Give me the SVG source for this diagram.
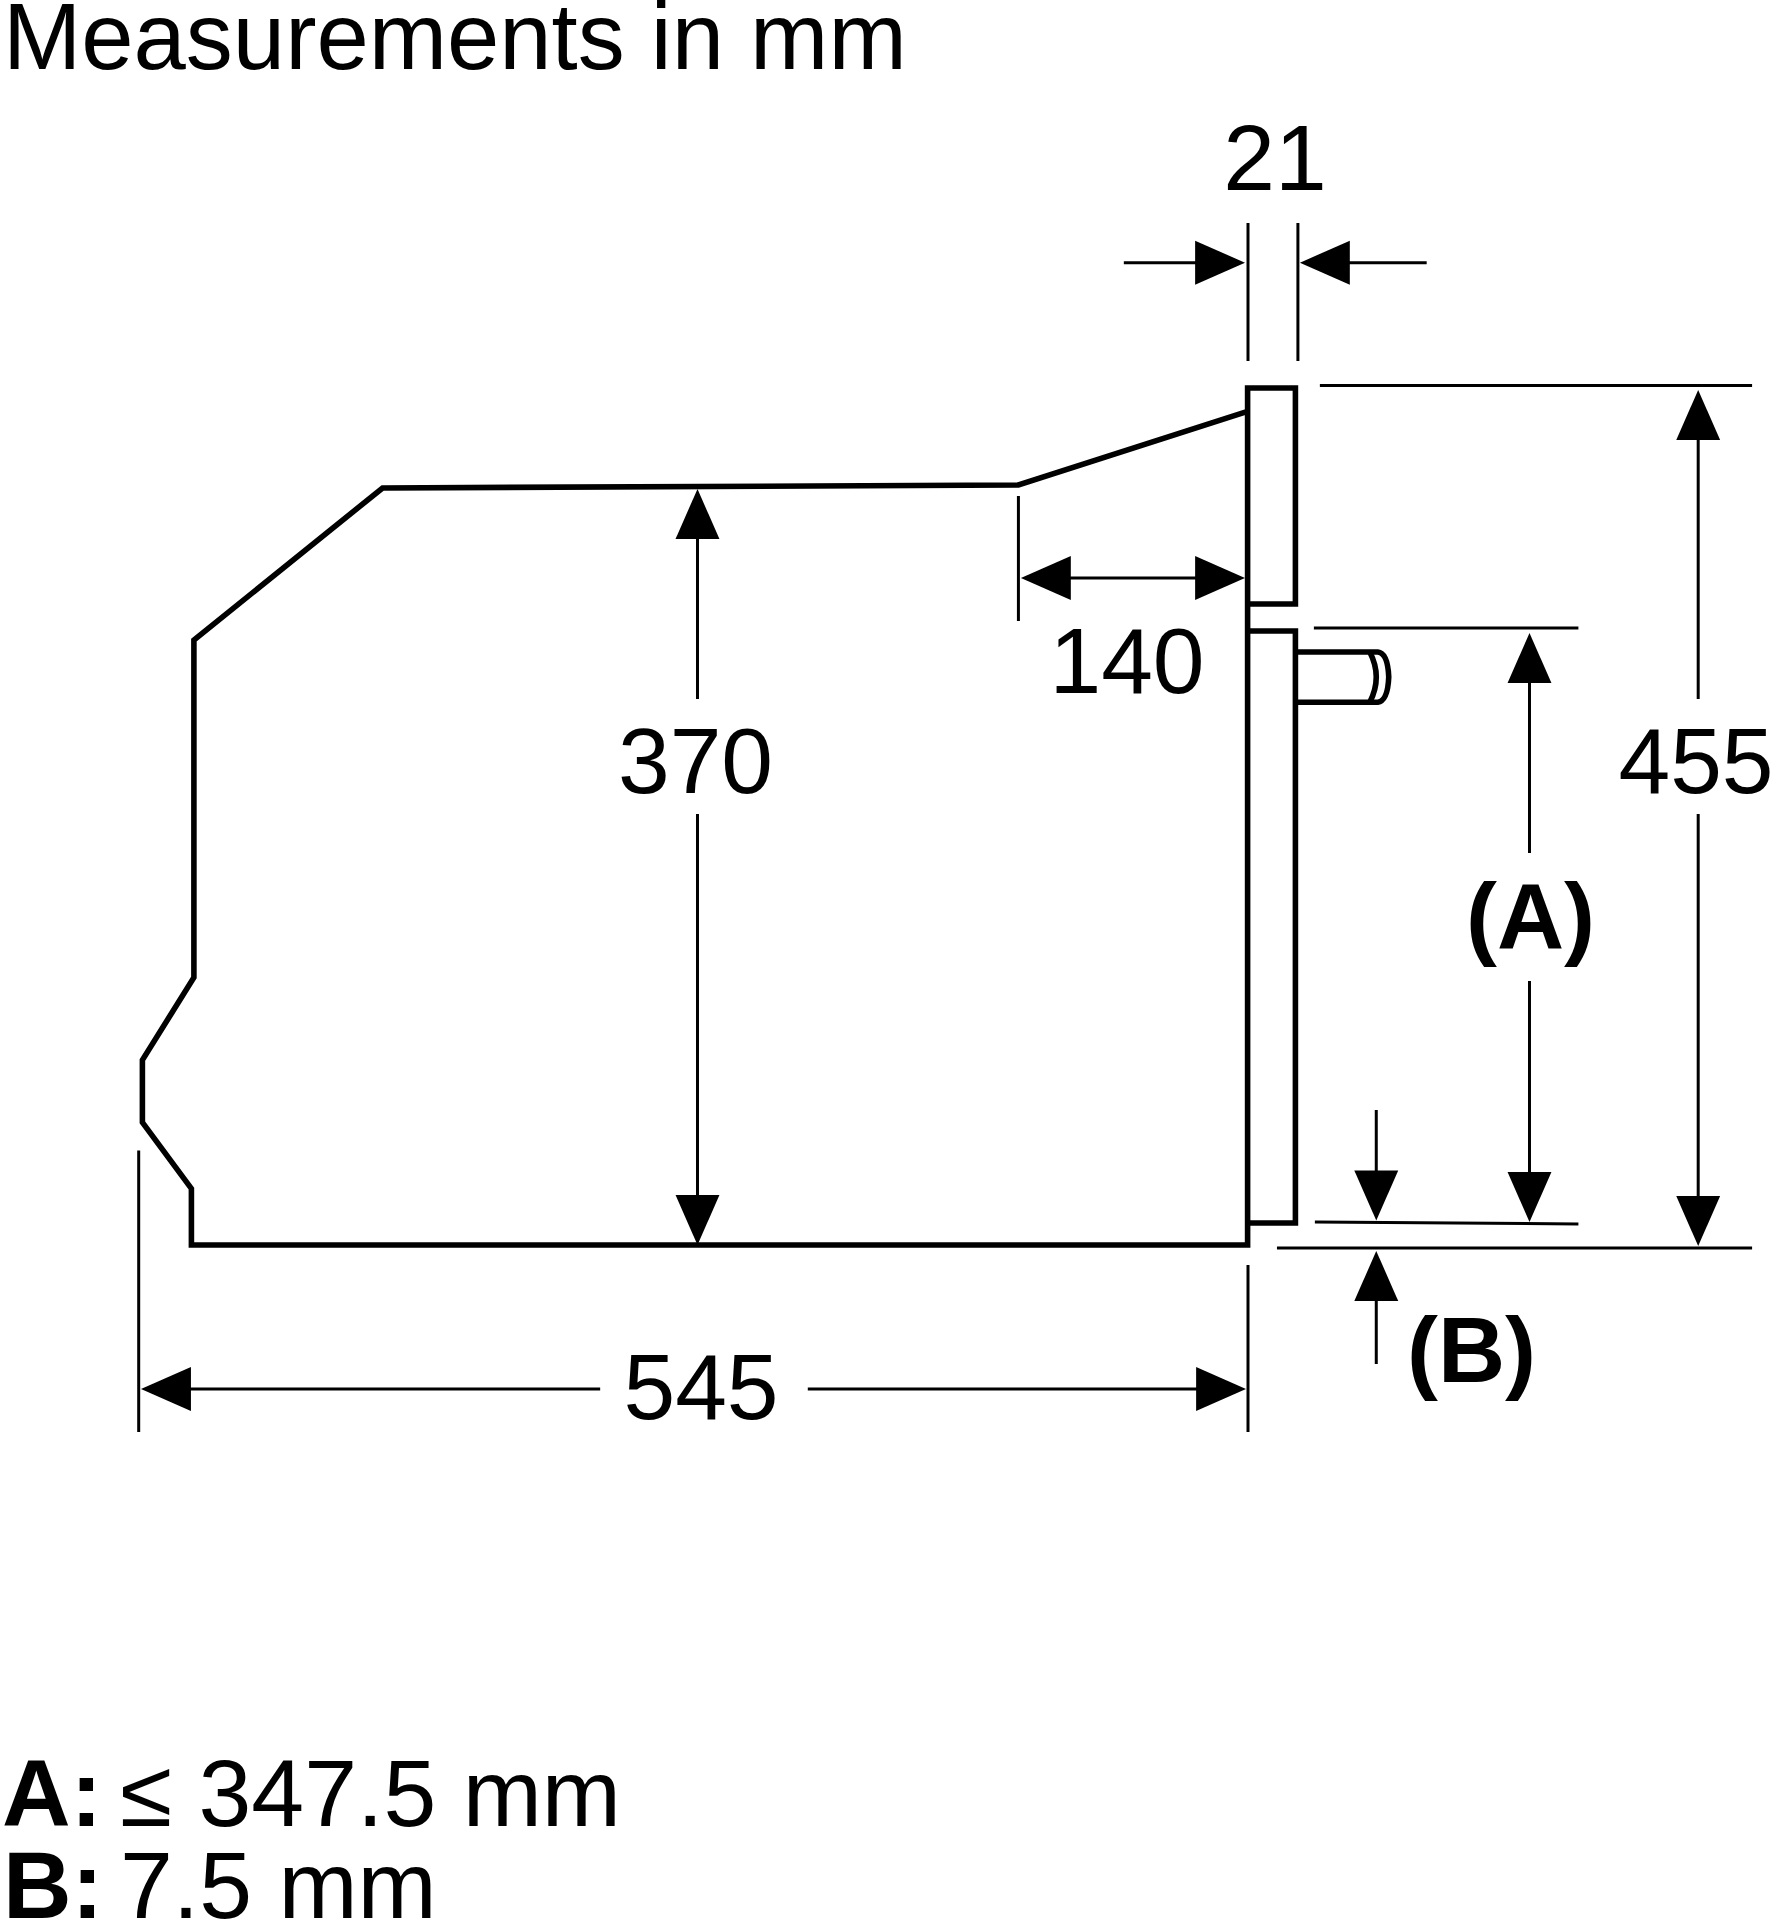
<svg xmlns="http://www.w3.org/2000/svg" xmlns:xlink="http://www.w3.org/1999/xlink" width="1776" height="1921" viewBox="0 0 1776 1921">
<style>
.t{font-family:"Liberation Sans",Arial,sans-serif;font-size:93px;fill:#000}
.l{font-size:95px}
.b{font-weight:bold}
.m{text-anchor:middle}
.o{fill:none;stroke:#000;stroke-width:5.6;stroke-linejoin:miter}
.d{fill:none;stroke:#000;stroke-width:3}
.h{fill:#000}
</style>
<defs><path id="ah" class="h" d="M0 0L-50 -22L-50 22Z"/></defs>
<rect width="1776" height="1921" fill="#fff"/>
<g id="oven" transform="matrix(.9982 0 0 1 .252 -2)">
<path class="o" d="M1249.6 413.4L1020 487L383 490L194 642V979.5L142.4 1062V1124.4L191.5 1190.7V1247H1249.6V390H1297.5V606H1249.6"/>
<path class="o" d="M1249.6 633H1297.5V1225H1249.6"/>
<path class="o" d="M1297.5 654H1380Q1390 655 1391 679Q1390 703 1380 704.3H1297.5"/>
<path class="o" d="M1372 654Q1385 679 1372 704.3"/>
</g>
<g id="dimensions" transform="matrix(.9982 0 0 1 .252 -2)">
<path class="d" d="M1250 225V363M1300 225V363M1125.6 264.7H1200M1348 264.7H1429"/>
<use xlink:href="#ah" href="#ah" transform="translate(1247 264.7)"/>
<use xlink:href="#ah" href="#ah" transform="translate(1302 264.7) rotate(180)"/>
<path class="d" d="M1322 387.5H1755M1279 1250H1755M1701 437V701M1701 816V1206"/>
<use xlink:href="#ah" href="#ah" transform="translate(1701 392) rotate(-90)"/>
<use xlink:href="#ah" href="#ah" transform="translate(1701 1248) rotate(90)"/>
<path class="d" d="M1316 630H1581M1317 1224L1581 1226M1532 680V855M1532 983V1179"/>
<use xlink:href="#ah" href="#ah" transform="translate(1532 635) rotate(-90)"/>
<use xlink:href="#ah" href="#ah" transform="translate(1532 1224) rotate(90)"/>
<path class="d" d="M1378.5 1112V1180M1378.5 1296V1366"/>
<use xlink:href="#ah" href="#ah" transform="translate(1378.5 1222.5) rotate(90)"/>
<use xlink:href="#ah" href="#ah" transform="translate(1378.5 1253) rotate(-90)"/>
<path class="d" d="M698.5 536V701M698.5 816V1205"/>
<use xlink:href="#ah" href="#ah" transform="translate(698.5 491) rotate(-90)"/>
<use xlink:href="#ah" href="#ah" transform="translate(698.5 1247) rotate(90)"/>
<path class="d" d="M1020 498V623M1068 580H1201"/>
<use xlink:href="#ah" href="#ah" transform="translate(1022.5 580) rotate(180)"/>
<use xlink:href="#ah" href="#ah" transform="translate(1247 580)"/>
<path class="d" d="M138.7 1152.6V1434M1250 1267V1434M186 1391H601M809 1391H1202"/>
<use xlink:href="#ah" href="#ah" transform="translate(141 1391) rotate(180)"/>
<use xlink:href="#ah" href="#ah" transform="translate(1248 1391)"/>
</g>
<g id="labels">
<text class="t" style="font-size:94px" x="3" y="69">Measurements in mm</text>
<text class="t m" x="1275" y="190">21</text>
<text class="t m" x="1127" y="693">140</text>
<text class="t m" x="695.5" y="793">370</text>
<text class="t m" x="1696" y="793">455</text>
<text class="t m" x="701" y="1419">545</text>
<text class="t b m" x="1530.5" y="948">(A)</text>
<text class="t b m" x="1471.5" y="1382">(B)</text>
<text class="t l b" x="2" y="1826">A:</text>
<text class="t l" x="120" y="1826">≤ 347.5 mm</text>
<text class="t l b" x="3" y="1918">B:</text>
<text class="t l" x="120" y="1918">7.5 mm</text>
</g>
</svg>
